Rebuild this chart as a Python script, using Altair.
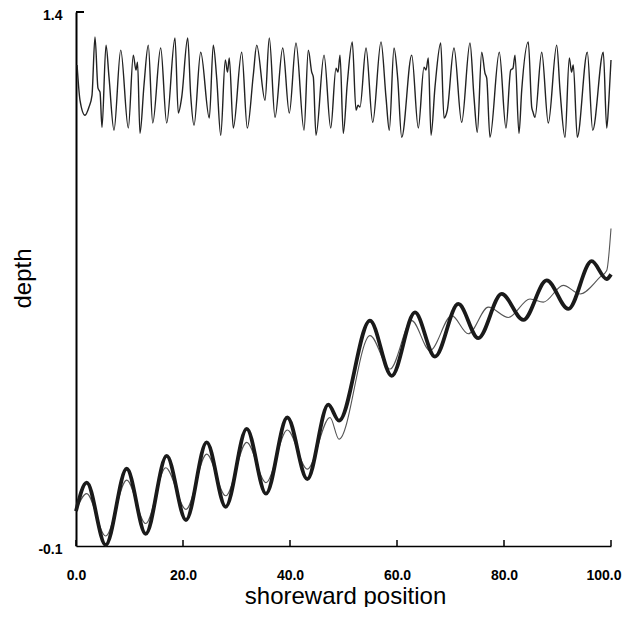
import altair as alt
import pandas as pd

# ---- data ----
top_x = [0.2, 0.75, 1.68, 2.43, 2.99, 3.55, 4.11, 4.49, 4.86, 5.61, 6.17, 7.10, 8.36, 9.78,
         10.71, 11.21, 11.50, 11.96, 12.71, 13.51, 14.34, 15.83, 16.95, 18.50, 19.12, 19.76,
         20.88, 21.44, 22.06, 23.31, 24.92, 25.66, 26.30, 27.05, 27.91, 28.32, 28.65, 29.40,
         30.97, 32.02, 33.14, 33.78, 35.33, 36.13, 37.20, 38.64, 39.87, 41.12, 42.62, 43.42,
         44.06, 44.36, 44.86, 46.36, 47.61, 48.60, 48.97, 49.35, 49.96, 50.71, 51.64, 52.34,
         52.71, 53.08, 54.21, 55.46, 57.01, 57.94, 58.56, 59.44, 60.13, 60.88, 62.75, 63.98,
         65.05, 65.42, 65.85, 66.36, 67.10, 68.17, 68.79, 69.40, 70.65, 72.09, 73.64, 74.39,
         75.01, 75.83, 76.45, 76.77, 77.38, 79.12, 80.37, 81.25, 81.68, 82.06, 82.80, 83.31,
         84.54, 85.18, 85.42, 85.79, 87.05, 88.28, 89.85, 90.47, 91.40, 92.21, 92.62, 92.95,
         93.70, 95.57, 96.58, 98.56, 99.20, 99.60, 100.0]
top_y = [1.251, 1.152, 1.110, 1.133, 1.166, 1.330, 1.186, 1.175, 1.076, 1.307, 1.217, 1.068, 1.293, 1.074,
         1.279, 1.237, 1.259, 1.059, 1.195, 1.307, 1.088, 1.299, 1.088, 1.327, 1.116, 1.161,
         1.327, 1.166, 1.082, 1.287, 1.102, 1.307, 1.214, 1.054, 1.265, 1.231, 1.271, 1.074,
         1.287, 1.074, 1.223, 1.307, 1.152, 1.327, 1.104, 1.299, 1.116, 1.313, 1.068, 1.293,
         1.231, 1.217, 1.054, 1.279, 1.074, 1.242, 1.231, 1.279, 1.059, 1.200, 1.316, 1.124,
         1.138, 1.133, 1.299, 1.090, 1.316, 1.161, 1.068, 1.299, 1.214, 1.048, 1.279, 1.074,
         1.245, 1.237, 1.271, 1.054, 1.189, 1.313, 1.102, 1.124, 1.299, 1.090, 1.313, 1.161,
         1.062, 1.287, 1.228, 1.214, 1.048, 1.287, 1.074, 1.237, 1.242, 1.279, 1.059, 1.180,
         1.316, 1.133, 1.119, 1.104, 1.287, 1.088, 1.307, 1.180, 1.048, 1.271, 1.231, 1.251,
         1.048, 1.287, 1.068, 1.287, 1.074, 1.152, 1.265]

thick_x = [0.0, 2.0, 5.55, 9.48, 13.03, 16.95, 20.56, 24.43, 27.98, 31.91, 35.51, 39.50, 43.23,
           47.16, 49.16, 54.95, 59.01, 63.36, 67.10, 71.46, 75.19, 79.57, 83.61, 87.98, 92.02,
           96.39, 99.19, 100.0]
thick_y = [-0.002, 0.078, -0.097, 0.117, -0.066, 0.153, -0.027, 0.191, 0.010, 0.229, 0.047, 0.261, 0.088,
           0.297, 0.252, 0.533, 0.378, 0.556, 0.432, 0.580, 0.484, 0.608, 0.535, 0.646, 0.566,
           0.700, 0.650, 0.663]

thin_x = [0.0, 2.0, 5.55, 9.48, 13.03, 16.77, 20.56, 24.43, 27.98, 31.91, 35.51, 39.50, 43.23,
          47.48, 49.16, 54.95, 58.69, 62.75, 66.17, 70.22, 73.33, 77.07, 80.80, 84.86, 87.35,
          91.08, 94.21, 97.94, 99.20, 100.0]
thin_y = [0.000, 0.047, -0.072, 0.085, -0.037, 0.120, 0.003, 0.158, 0.041, 0.191, 0.078, 0.226, 0.116,
          0.261, 0.200, 0.491, 0.397, 0.533, 0.449, 0.547, 0.496, 0.571, 0.542, 0.594, 0.585,
          0.632, 0.608, 0.655, 0.674, 0.792]

x_ticks = [0, 20, 40, 60, 80, 100]
y_ticks = [-0.1, 1.4]

W, H = 535, 534
FONT = "Liberation Sans"

xs = alt.Scale(domain=[0, 100], nice=False, zero=False)
ys = alt.Scale(domain=[-0.1, 1.4], nice=False, zero=False)

x_axis = alt.Axis(values=x_ticks, format=".1f", ticks=False, grid=False,
                  domainColor="black", domainWidth=1.5,
                  labelFont=FONT, labelFontSize=14, labelFontWeight="bold", labelColor="black",
                  labelPadding=22, labelAngle=0, labelFlush=False, labelOverlap=False,
                  labelAlign={"condition": {"test": "datum.value == 100", "value": "right"},
                              "value": "center"},
                  labelOffset={"condition": {"test": "datum.value == 100", "value": 10},
                               "value": 0},
                  title="shoreward position", titleFont=FONT, titleFontSize=24,
                  titleFontWeight="normal", titleColor="black",
                  titleX=269, titleY=50, titleBaseline="middle", titleAlign="center")
y_axis = alt.Axis(values=y_ticks, format=".1f", ticks=False, grid=False,
                  labelExpr="replace(datum.label, '\u2212', '-')",
                  domainColor="black", domainWidth=2,
                  labelFont=FONT, labelFontSize=14, labelFontWeight="bold", labelColor="black",
                  labelPadding=14, labelOffset=3, labelFlush=False, labelOverlap=False,
                  title="depth", titleFont=FONT, titleFontSize=24, titleFontWeight="normal",
                  titleColor="black", titleAngle=270, titleX=-53, titleY=266,
                  titleBaseline="middle", titleAlign="center")

X = alt.X("x:Q", scale=xs, axis=x_axis)
Y = alt.Y("y:Q", scale=ys, axis=y_axis)

top_df = pd.DataFrame({"x": top_x, "y": top_y})
thick_df = pd.DataFrame({"x": thick_x, "y": thick_y})
thin_df = pd.DataFrame({"x": thin_x, "y": thin_y})

top_line = alt.Chart(top_df).mark_line(color="#222222", strokeWidth=1.4,
                                       interpolate="monotone").encode(x=X, y=Y)
thin_line = alt.Chart(thin_df).mark_line(color="#555555", strokeWidth=1.1,
                                         interpolate="monotone").encode(x=X, y=Y)
thick_line = alt.Chart(thick_df).mark_line(color="#1a1a1a", strokeWidth=3.8,
                                           interpolate="monotone").encode(x=X, y=Y)

xt = alt.Chart(pd.DataFrame({"x": x_ticks})).mark_rule(color="black", strokeWidth=1.5).encode(
    x=X, y=alt.value(H), y2=alt.value(H - 6))
yt = alt.Chart(pd.DataFrame({"y": [y_ticks[1]]})).mark_rule(color="black", strokeWidth=2).encode(
    y=Y, x=alt.value(0), x2=alt.value(8))

chart = alt.layer(thin_line, thick_line, top_line, xt, yt).properties(
    width=W, height=H,
    autosize=alt.AutoSizeParams(type="none"),
    padding={"left": 68, "top": 4, "right": 11, "bottom": 61},
    background="white",
).configure_view(stroke=None)

chart.save("out.html", embed_options={"renderer": "svg", "actions": False})
